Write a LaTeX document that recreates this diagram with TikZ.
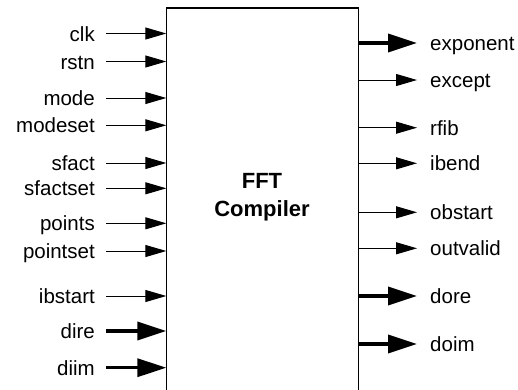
\documentclass[tikz,border=0pt]{standalone}
\usepackage{fontspec}
\setmainfont{Liberation Sans}
\usetikzlibrary{arrows.meta,positioning}
\newcommand{\sigsize}{\fontsize{20.5}{24}\selectfont}
\tikzset{
    boxsty/.style={rectangle,inner sep=0pt,minimum width=191.5pt,minimum height=384pt},
    edgesty/.style={line width=1.4pt},
    titlesty/.style={font=\bfseries\fontsize{22}{28}\selectfont,align=center},
    inlsty/.style={font=\sigsize,anchor=base east,inner sep=0pt},
    outlsty/.style={font=\sigsize,anchor=base west,inner sep=0pt},
    thinsty/.style={line width=1pt,-{Triangle[length=21pt,width=12pt]}},
    thicksty/.style={line width=3.5pt,-{Triangle[length=29pt,width=18pt]}},
}

\begin{document}
\begin{tikzpicture}[x=1pt,y=-1pt]
\useasboundingbox (0,0) rectangle (518,389);

\node[boxsty] (comp) at (262.25,200) {};
\draw[edgesty] (comp.south west) -- (comp.north west) -- (comp.north east) -- (comp.south east);
\node[titlesty] (title) at (262,197) {FFT\\Compiler};

% inputs
\foreach \nm/\y/\sty in {clk/33.5/thinsty, rstn/61.5/thinsty, mode/98/thinsty,
    modeset/125.3/thinsty, sfact/163/thinsty, sfactset/188.3/thinsty,
    points/223.3/thinsty, pointset/251/thinsty, ibstart/296/thinsty,
    dire/331/thicksty, diim/367.7/thicksty}{
  \node[inlsty] (\nm) at (95,\y+7.5) {\nm};
  \coordinate (\nm-s) at (106,\y);
  \draw[\sty] (\nm-s) -- (\nm-s -| comp.west);
}

% outputs
\foreach \nm/\y/\sty in {exponent/43/thicksty, except/80/thinsty, rfib/127.7/thinsty,
    ibend/163.3/thinsty, obstart/212.3/thinsty, outvalid/248.3/thinsty,
    dore/296/thicksty, doim/344/thicksty}{
  \node[outlsty] (\nm) at (430,\y+7.5) {\nm};
  \coordinate (\nm-e) at (417,\y);
  \draw[\sty] (\nm-e -| comp.east) -- (\nm-e);
}

\end{tikzpicture}
\end{document}
